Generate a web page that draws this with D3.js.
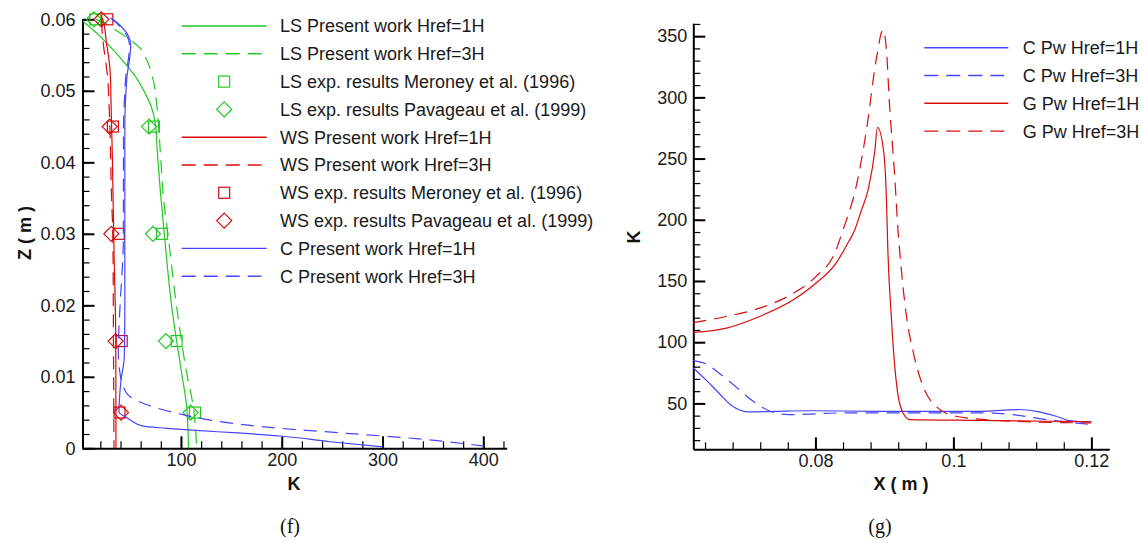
<!DOCTYPE html>
<meta charset="utf-8">
<style>
  body { margin: 0; background: #fff; }
  svg { display: block; font-family: "Liberation Sans", Arial, sans-serif; }
  .curve { fill: none; stroke-width: 1.2px; }
  .axis path { stroke: #000; stroke-width: 2px; }
  .axis .major line { stroke: #000; stroke-width: 2px; }
  .axis .minor line { stroke: #000; stroke-width: 1.2px; }
  .axis text { font-size: 18px; fill: #1a1a1a; font-family: "Liberation Sans", Arial, sans-serif; }
  .title { font-size: 18px; font-weight: bold; fill: #111; }
  .legend text { font-size: 18px; fill: #1a1a1a; }
  .caption { font-family: "Liberation Serif", "Times New Roman", serif; font-size: 20px; fill: #111; }
</style>
<body>
<script src="https://cdn.jsdelivr.net/npm/d3@7/dist/d3.min.js"></script>
<script>

  var green = "#22c822", red = "#d80c0c", blue = "#4444ff";
  var dash = "13,8";

  // ---- (f) K profiles against height, [K, Z] ----
  var lsHref1 = [[2.8, 0.0597], [17.7, 0.0579], [30.9, 0.056], [44, 0.0539], [55.7, 0.0518], [65, 0.0495],
    [70.5, 0.0478], [74.5, 0.0455], [76.5, 0.0415], [79.5, 0.036], [83.5, 0.03], [90.8, 0.0198],
    [100.7, 0.0105], [105.7, 0.0058], [107.3, 0.0012], [107.5, 0]];
  var lsHref3 = [[16, 0.06], [24, 0.0595], [32.8, 0.0587], [47, 0.0574], [59.3, 0.056], [66, 0.0543],
    [72.5, 0.0515], [75.5, 0.0487], [77.5, 0.0455], [79.5, 0.0415], [83, 0.0345], [87, 0.03],
    [95.7, 0.0198], [105.7, 0.0105], [112.2, 0.0058], [115.6, 0]];
  var wsHref1 = [[22, 0.0602], [24.3, 0.0588], [25.9, 0.0569], [28.3, 0.0546], [29.9, 0.0523], [30.5, 0.049],
    [31.9, 0.0408], [33.5, 0.028], [35.3, 0.015], [35.5, 0]];
  var wsHref3 = [[21, 0.0598], [22.6, 0.057], [26.9, 0.0523], [29.3, 0.0455], [30.9, 0.0361], [32.5, 0.029],
    [33, 0.015], [33.5, 0]];
  var cHref1 = [[31, 0.0602], [39.2, 0.0592], [47.4, 0.0578], [50.1, 0.0564], [49.1, 0.0546], [46.7, 0.0523],
    [45.1, 0.049], [44.3, 0.045], [44.3, 0.03], [44.3, 0.02], [43.8, 0.0128], [40.5, 0.0095], [39, 0.007],
    [38.5, 0.005], [44, 0.0045], [49.4, 0.004], [62.6, 0.0031], [85.8, 0.0028], [118.8, 0.00246],
    [151.9, 0.00218], [198.2, 0.00172], [247.8, 0.00092], [300.7, 0.0002]];
  var cHref3 = [[30, 0.0602], [38, 0.0592], [46, 0.0578], [49, 0.0564], [48, 0.0546], [45.5, 0.0523],
    [44, 0.049], [43, 0.045], [42.8, 0.029], [39.5, 0.0198], [37.8, 0.0137], [39.5, 0.0105], [46.1, 0.0077],
    [64.3, 0.0062], [102, 0.0047], [135.4, 0.0038], [168.5, 0.0032], [198.2, 0.0028], [264.4, 0.0021],
    [340.4, 0.00126], [406.5, 0.0002]];

  // measured points at five heights
  var expHeights = [0.06, 0.045, 0.03, 0.015, 0.005];
  var lsMeroney = [15, 73.2, 81.2, 95.7, 113.9];
  var lsPavageau = [13.7, 68.3, 72.2, 85.1, 109.6];
  var wsMeroney = [26.9, 32.5, 38.2, 41.2, 39];
  var wsPavageau = [21, 29.3, 30.9, 35.2, 40.5];

  var kTicksL = [100, 200, 300, 400];
  var zTicksL = [0, 0.01, 0.02, 0.03, 0.04, 0.05, 0.06];

  // ---- (g) K along X, [X, K] ----
  var cPwHref1 = [[0.0623, 79], [0.0641, 69.4], [0.066, 58.5], [0.068, 47.6], [0.0704, 43], [0.0743, 43.5],
    [0.0791, 44], [0.0892, 43.5], [0.1038, 43.5], [0.1096, 45], [0.112, 43.5], [0.1149, 39.5], [0.1168, 36],
    [0.12, 34.7]];
  var cPwHref3 = [[0.0623, 85], [0.0641, 82.4], [0.066, 74.9], [0.0684, 63.9], [0.0713, 50.4], [0.0737, 43],
    [0.0761, 40.8], [0.084, 42.2], [0.0892, 42.2], [0.1038, 42.2], [0.1086, 40.8], [0.1134, 36.8], [0.12, 32.7]];
  var gPwHref1 = [[0.0623, 108], [0.0671, 111.5], [0.0719, 121], [0.0768, 134.6], [0.0801, 148.3],
    [0.083, 164.6], [0.0847, 181], [0.0857, 191.7], [0.0866, 206.7], [0.0877, 225.8], [0.0886, 255.6],
    [0.089, 275.5], [0.0899, 255.6], [0.0903, 216], [0.0905, 175.4], [0.091, 121], [0.0915, 80.2],
    [0.092, 55.7], [0.0927, 42.2], [0.0937, 36.8], [0.1038, 36.2], [0.1134, 35.4], [0.12, 35]];
  var gPwHref3 = [[0.0623, 116], [0.0671, 121], [0.0719, 127.8], [0.0768, 140], [0.0801, 153.7],
    [0.0828, 172.7], [0.084, 191.7], [0.0859, 227], [0.0874, 273.3], [0.0888, 330.4], [0.0898, 355],
    [0.0903, 338.6], [0.0907, 297.8], [0.0915, 235.2], [0.092, 189], [0.0922, 175.4], [0.0932, 121],
    [0.0941, 93.9], [0.0956, 63.9], [0.0975, 47.6], [0.1004, 39.5], [0.1086, 35.4], [0.12, 34]];

  var xTicksR = [0.08, 0.1, 0.12];
  var kTicksR = [50, 100, 150, 200, 250, 300, 350];

  var svg = d3.select("body").append("svg").attr("width", 1142).attr("height", 545);

  var xL = d3.scaleLinear().domain([2.3, 423.2]).range([82.5, 506.7]);
  var yL = d3.scaleLinear().domain([0, 0.0601]).range([448.3, 18.6]);
  var xR = d3.scaleLinear().domain([0.0623, 0.1226]).range([693.3, 1109.3]);
  var yR = d3.scaleLinear().domain([12.5, 360.5]).range([449.3, 23.3]);

  var fmt = d3.format(".2~f");

  function ticks(scale, step) {
    var d = scale.domain(), out = [];
    for (var v = Math.ceil(d[0] / step - 1e-9) * step; v <= d[1] + 1e-9; v += step) out.push(+v.toFixed(6));
    return out;
  }

  // major and minor ticks both point into the plot
  function drawAxis(orient, scale, at, major, minorStep, pad) {
    var g = svg.append("g").attr("class", "axis").attr("transform", at);
    g.append("g").attr("class", "minor")
      .call(orient(scale).tickValues(ticks(scale, minorStep)).tickSize(-7).tickSizeOuter(0).tickFormat(""))
      .select(".domain").remove();
    g.append("g").attr("class", "major")
      .call(orient(scale).tickValues(major).tickSize(-12).tickSizeOuter(0).tickPadding(pad).tickFormat(fmt));
    g.selectAll("g").attr("font-size", null).attr("font-family", null);
  }

  drawAxis(d3.axisBottom, xL, "translate(0,448.3)", kTicksL, 20, 5);
  drawAxis(d3.axisLeft, yL, "translate(82.5,0)", zTicksL, 0.002, 7);
  drawAxis(d3.axisBottom, xR, "translate(0,449.3)", xTicksR, 0.004, 5);
  drawAxis(d3.axisLeft, yR, "translate(693.3,0)", kTicksR, 10, 6);

  var lineL = d3.line().x(d => xL(d[0])).y(d => yL(d[1])).curve(d3.curveMonotoneY);
  var lineR = d3.line().x(d => xR(d[0])).y(d => yR(d[1])).curve(d3.curveMonotoneX);

  var seriesL = [
    { name: "LS Present work Href=1H", data: lsHref1, color: green, dash: null },
    { name: "LS Present work Href=3H", data: lsHref3, color: green, dash: dash },
    { name: "LS exp. results Meroney et al. (1996)", k: lsMeroney, color: green, mark: "square" },
    { name: "LS exp. results Pavageau et al. (1999)", k: lsPavageau, color: green, mark: "diamond" },
    { name: "WS Present work Href=1H", data: wsHref1, color: red, dash: null },
    { name: "WS Present work Href=3H", data: wsHref3, color: red, dash: dash },
    { name: "WS exp. results Meroney et al. (1996)", k: wsMeroney, color: red, mark: "square" },
    { name: "WS exp. results Pavageau et al. (1999)", k: wsPavageau, color: red, mark: "diamond" },
    { name: "C Present work Href=1H", data: cHref1, color: blue, dash: null },
    { name: "C Present work Href=3H", data: cHref3, color: blue, dash: dash }
  ];
  var seriesR = [
    { name: "C Pw Href=1H", data: cPwHref1, color: blue, dash: null },
    { name: "C Pw Href=3H", data: cPwHref3, color: blue, dash: dash },
    { name: "G Pw Href=1H", data: gPwHref1, color: red, dash: null },
    { name: "G Pw Href=3H", data: gPwHref3, color: red, dash: dash }
  ];

  function marker(sel, type, color) {
    if (type === "square") {
      sel.append("rect").attr("x", -5.5).attr("y", -5.5).attr("width", 11).attr("height", 11);
    } else {
      sel.append("path").attr("d", "M0,-7.5L7.5,0L0,7.5L-7.5,0Z");
    }
    sel.selectAll("rect,path").attr("fill", "none").attr("stroke", color).attr("stroke-width", 1.2);
  }

  seriesL.forEach(s => {
    if (s.data) {
      svg.append("path").attr("class", "curve").attr("d", lineL(s.data))
        .attr("stroke", s.color).attr("stroke-dasharray", s.dash);
    } else {
      s.k.forEach((k, i) => {
        marker(svg.append("g").attr("transform", "translate(" + xL(k) + "," + yL(expHeights[i]) + ")"), s.mark, s.color);
      });
    }
  });
  seriesR.forEach(s => {
    svg.append("path").attr("class", "curve").attr("d", lineR(s.data))
      .attr("stroke", s.color).attr("stroke-dasharray", s.dash);
  });

  function legend(series, x0, x1, tx, y0) {
    var g = svg.append("g").attr("class", "legend");
    series.forEach((s, i) => {
      var y = y0 + i * 27.8;
      if (s.mark) {
        marker(g.append("g").attr("transform", "translate(" + (x0 + x1) / 2 + "," + y + ")"), s.mark, s.color);
      } else {
        g.append("line").attr("x1", x0).attr("x2", x1).attr("y1", y).attr("y2", y)
          .attr("stroke", s.color).attr("stroke-width", 1.4).attr("stroke-dasharray", s.dash ? "14,8" : null);
      }
      g.append("text").attr("x", tx).attr("y", y).attr("dy", "0.36em").text(s.name);
    });
  }
  legend(seriesL, 181.7, 266.7, 280, 26);
  legend(seriesR, 924.3, 1008.3, 1022.7, 47.7);

  // axis titles and panel captions
  svg.append("text").attr("class", "title").attr("text-anchor", "middle")
    .attr("transform", "translate(31,233) rotate(-90)").text("Z ( m )");
  svg.append("text").attr("class", "title").attr("text-anchor", "middle").attr("x", 294).attr("y", 490).text("K");
  svg.append("text").attr("class", "title").attr("text-anchor", "middle")
    .attr("transform", "translate(640,237) rotate(-90)").text("K");
  svg.append("text").attr("class", "title").attr("text-anchor", "middle").attr("x", 901).attr("y", 490).text("X ( m )");
  svg.append("text").attr("class", "caption").attr("text-anchor", "middle").attr("x", 290).attr("y", 533).text("(f)");
  svg.append("text").attr("class", "caption").attr("text-anchor", "middle").attr("x", 880).attr("y", 533).text("(g)");
</script>
</body>
